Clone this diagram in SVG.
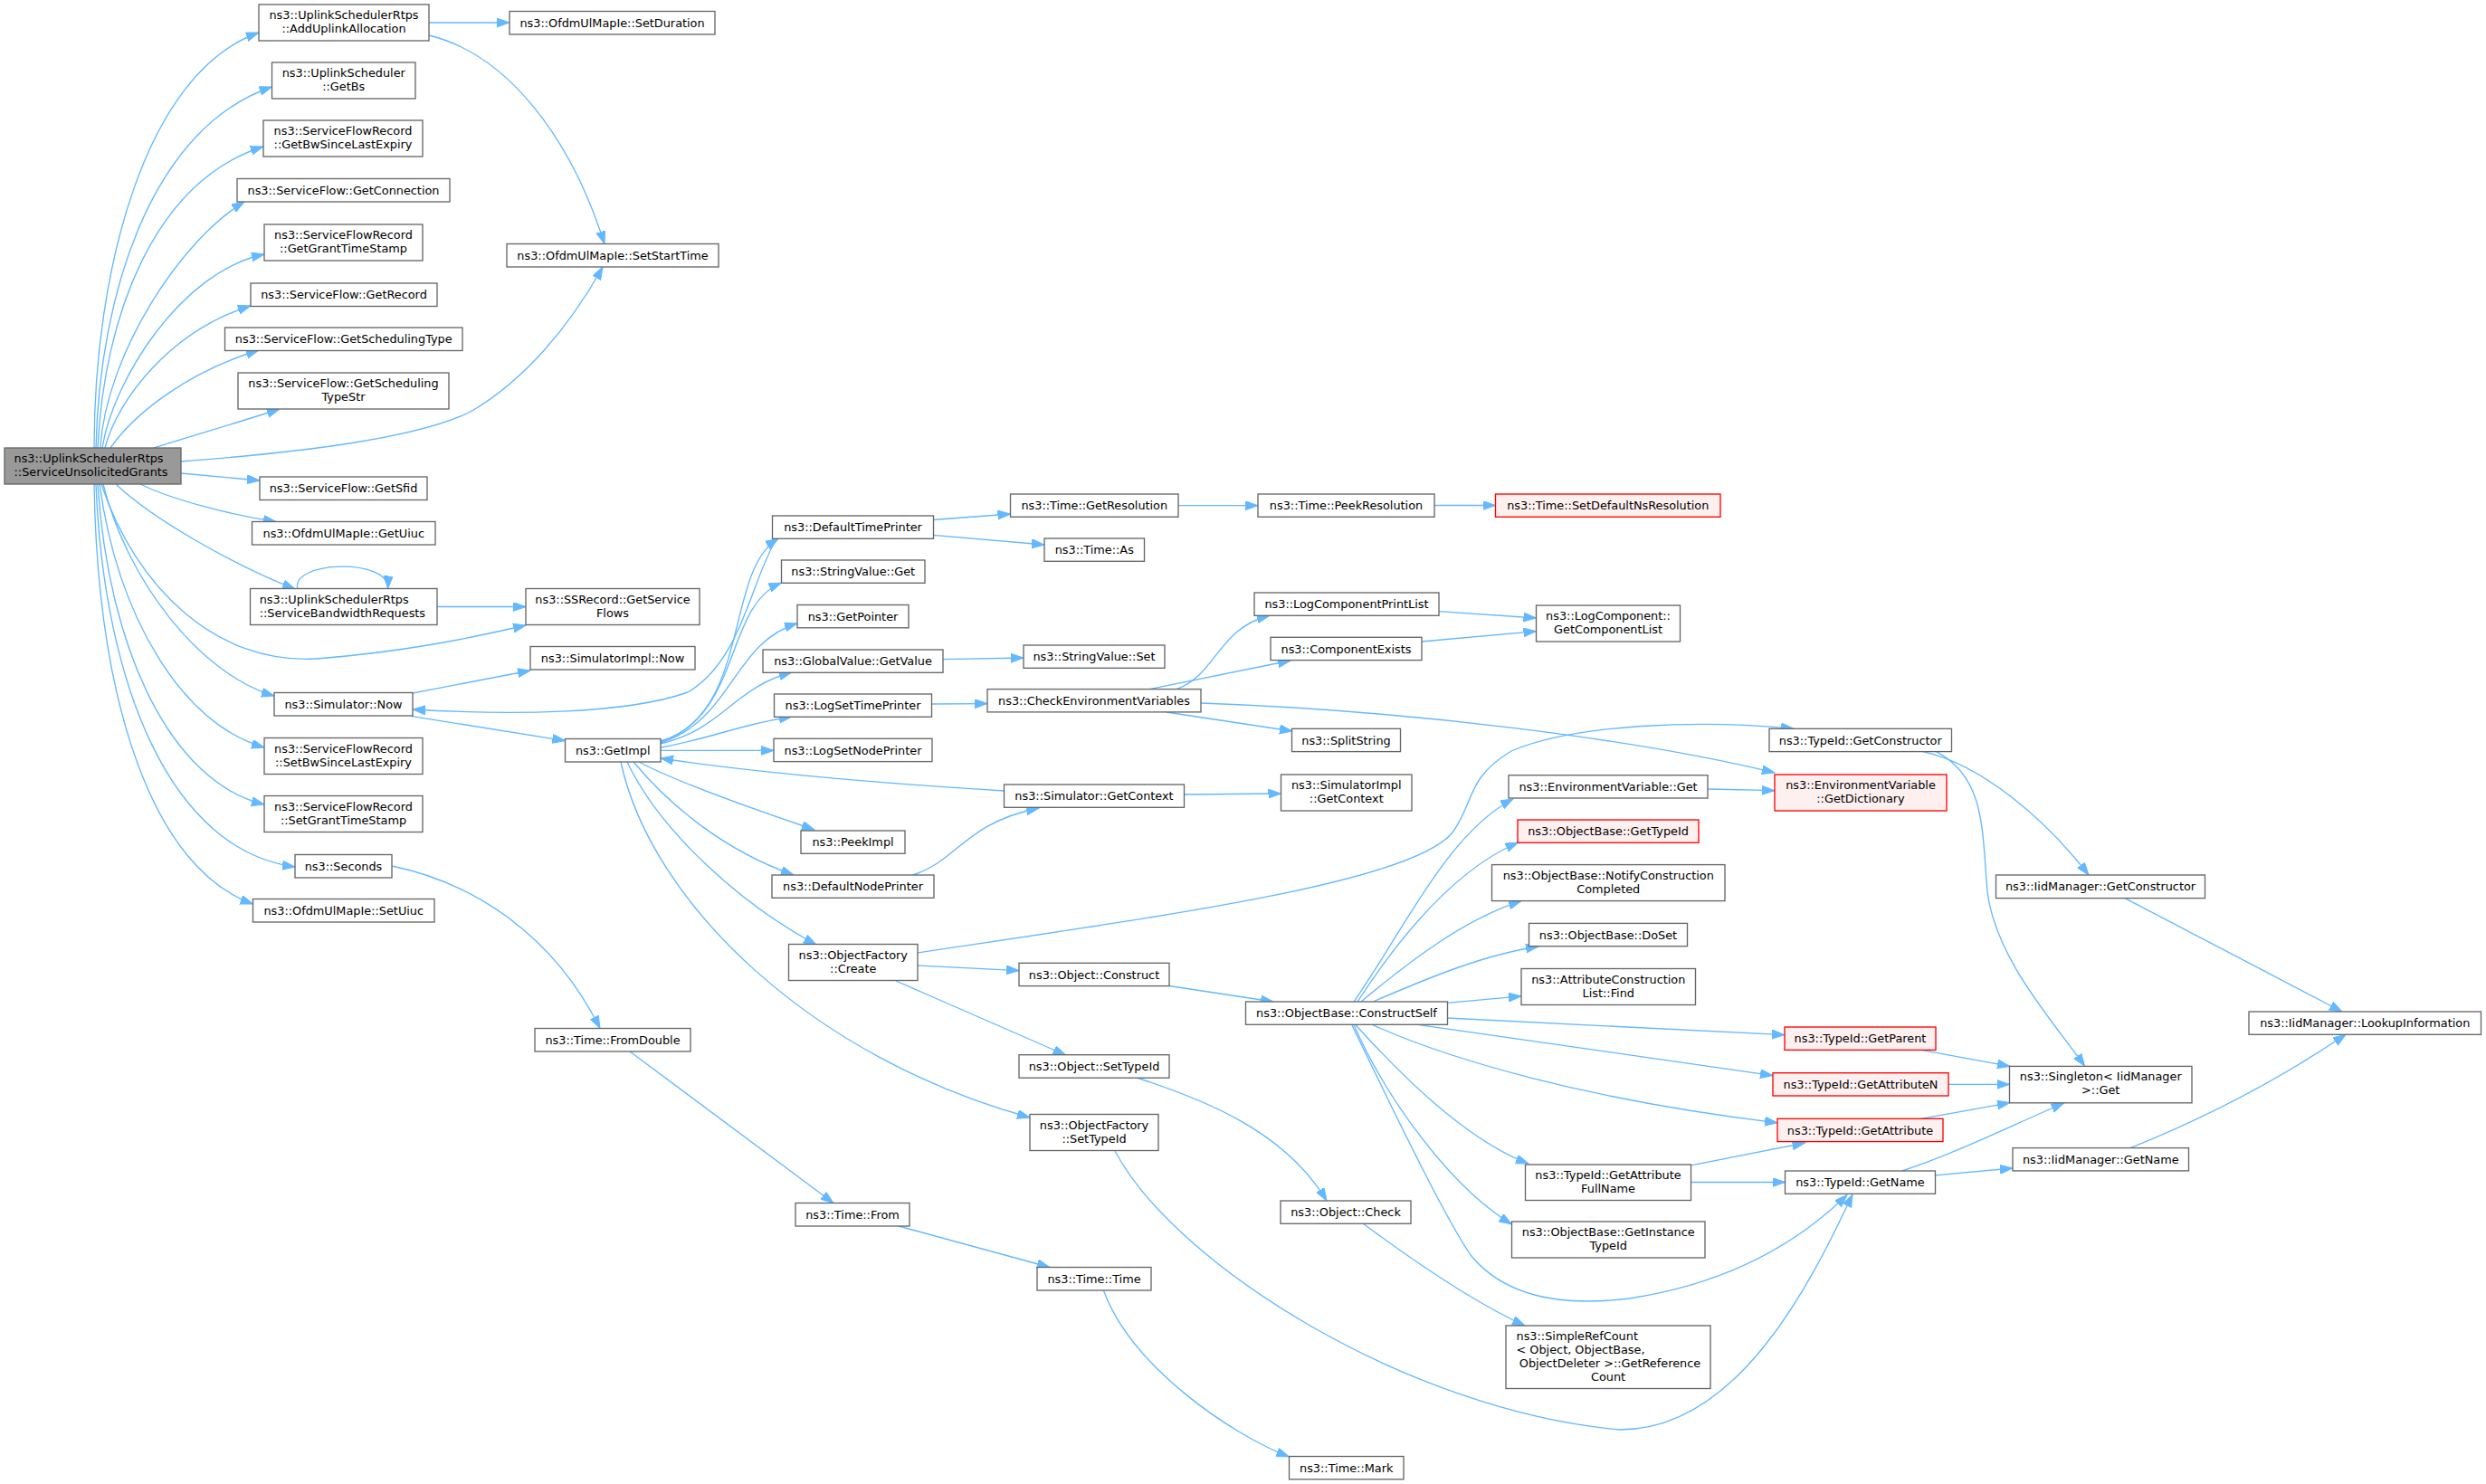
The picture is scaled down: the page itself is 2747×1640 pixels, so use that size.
<svg xmlns="http://www.w3.org/2000/svg" width="2747" height="1640" viewBox="0 0 2747 1640">
<style>
.n rect{fill:#ffffff;stroke:#666666;stroke-width:1.33}
.r rect{fill:#fff0f0;stroke:#ff0000;stroke-width:1.33}
.m rect{fill:#999999;stroke:#666666;stroke-width:1.33}
text{font-family:"DejaVu Sans","Liberation Sans",sans-serif;font-size:12.85px;text-anchor:middle;fill:#000000}
text.l{text-anchor:start}
#edges path{fill:none;stroke:#63b8ff;stroke-width:1.33;marker-end:url(#a)}
</style>
<defs>
<marker id="a" markerUnits="userSpaceOnUse" markerWidth="16" markerHeight="12" refX="14" refY="5" orient="auto">
<path d="M0,0 L14,5 L0,10 z" fill="#63b8ff" stroke="#63b8ff" stroke-width="1"/>
</marker>
</defs>
<rect x="0" y="0" width="2747" height="1640" fill="#ffffff"/>
<g id="edges">
<path d="M104,495 C104,300 160,80 286,36"/>
<path d="M106,495 C110,320 170,140 300.5,96"/>
<path d="M108,495 C115,350 170,200 291,162"/>
<path d="M110.7,495 C118,390 200,265 270,223"/>
<path d="M113,495 C125,420 200,300 292,281"/>
<path d="M116,495 C130,440 190,365 277,338"/>
<path d="M122,495 C150,455 210,410 286,387"/>
<path d="M170,495 C210,482 260,468 309,452"/>
<path d="M200,510 C330,500 460,485 520,455 C580,420 630,360 666,295"/>
<path d="M200,523 L287,531"/>
<path d="M155,535 C190,552 250,568 305,576.5"/>
<path d="M128,535 C170,575 260,625 326,651"/>
<path d="M112,535 C150,650 240,735 350,728 C450,720 520,705 581,691"/>
<path d="M114,535 C140,640 220,745 303,769"/>
<path d="M110,535 C130,680 200,800 292,826"/>
<path d="M108,535 C120,720 190,865 292,889"/>
<path d="M106,535 C115,760 190,940 326,958"/>
<path d="M104,535 C108,780 170,960 279.5,999"/>
<path d="M474,25 L563,25"/>
<path d="M474,39 C560,60 630,150 668,269.5"/>
<path d="M329,651 C320,620 430,616 428.6,650.5"/>
<path d="M483,670.5 L581,670.5"/>
<path d="M456,766 L586,741"/>
<path d="M454,791.4 L624.5,818.6"/>
<path d="M858,596 C830,640 820,730 760,765 C690,790 560,790 456,784"/>
<path d="M730,819 C830,790 800,630 860,595.5"/>
<path d="M730,820 C820,790 800,670 863.5,644"/>
<path d="M730,821 C810,795 810,710 881,689"/>
<path d="M730,822 C800,805 810,760 875,743"/>
<path d="M730,826 C790,815 820,800 875,792"/>
<path d="M730,829.4 L855,829.4"/>
<path d="M1109.5,874 C980,866 850,856 730,838"/>
<path d="M706,842 C740,860 820,890 900,917"/>
<path d="M700,842 C740,890 800,940 877,967"/>
<path d="M693,842 C730,920 820,1000 902,1044"/>
<path d="M686,842 C720,1000 900,1170 1138,1235"/>
<path d="M1031,574.5 L1116.5,568"/>
<path d="M1031,591.3 L1154,602"/>
<path d="M1302,558.7 L1390,558.7"/>
<path d="M1585,558.5 L1652.5,558.5"/>
<path d="M1042,728.6 L1131,727"/>
<path d="M1029,778 L1091,777.6"/>
<path d="M1300,761.6 C1345,745 1345,695 1403,680"/>
<path d="M1270,761.6 L1426,730"/>
<path d="M1289,787 L1428,808"/>
<path d="M1327,777 C1550,785 1800,815 1961,854"/>
<path d="M1590,675.7 L1697.5,683"/>
<path d="M1571,709 L1697.5,697.6"/>
<path d="M1308.6,878 L1415.5,877"/>
<path d="M1009,967 C1060,950 1065,910 1148,893"/>
<path d="M1014,1067 L1126,1072.6"/>
<path d="M990,1084 L1177.7,1166"/>
<path d="M1014,1053 C1300,1010 1560,975 1605,920 C1630,885 1620,860 1670,830 C1740,800 1880,795 1982,805.3"/>
<path d="M1291.8,1089.5 L1407,1107"/>
<path d="M1256,1191 C1330,1215 1420,1250 1466,1327"/>
<path d="M1506,1352 C1560,1392 1630,1440 1685,1465"/>
<path d="M1232,1272 C1300,1400 1560,1560 1790,1580 C1920,1580 2000,1420 2047,1320"/>
<path d="M433,957 C520,975 610,1030 663,1136.5"/>
<path d="M696,1162 L921,1329.5"/>
<path d="M993,1355 L1160,1400.5"/>
<path d="M1219.4,1426 C1250,1510 1360,1585 1424.5,1610"/>
<path d="M1496,1107 C1550,1030 1600,920 1672,883"/>
<path d="M1500,1107 C1550,1030 1610,960 1677.6,931"/>
<path d="M1504,1107 C1560,1060 1620,1015 1681,995.6"/>
<path d="M1517,1107 C1580,1080 1640,1055 1700,1046"/>
<path d="M1599,1108.4 L1681,1100.8"/>
<path d="M1599,1125 L1972,1143.7"/>
<path d="M1563,1131.8 L1959,1188.6"/>
<path d="M1516.8,1132.7 C1600,1170 1750,1215 1964,1240.8"/>
<path d="M1498,1132.7 C1550,1190 1620,1260 1689,1286"/>
<path d="M1496,1132.7 C1530,1210 1600,1310 1670.5,1353"/>
<path d="M1494,1133 C1560,1270 1600,1350 1625,1387 C1660,1430 1720,1445 1800,1435 C1900,1420 1980,1380 2041,1320.5"/>
<path d="M1868.6,1287.8 L1994.5,1263"/>
<path d="M1868.6,1306.5 L1972.5,1306.5"/>
<path d="M2122.8,1160.4 L2221,1178.4"/>
<path d="M2152.7,1198.4 L2220.5,1198.4"/>
<path d="M2122.8,1236.3 L2221,1218.6"/>
<path d="M2101.7,1294 C2160,1275 2220,1245 2280.6,1219"/>
<path d="M2138.3,1298.8 L2224,1291"/>
<path d="M2354,1268.6 C2450,1230 2530,1185 2592,1143.3"/>
<path d="M2348,992.6 L2588,1118"/>
<path d="M2125,830.6 C2190,845 2260,905 2308,967"/>
<path d="M2139.6,830.6 C2195,860 2190,920 2196,985 C2205,1060 2270,1130 2303.7,1178.4"/>
<path d="M1886.8,872 L1961,873.7"/>
</g>
<g id="n_main" class="m"><rect x="5" y="495" width="195" height="40"/><text class="l" x="15.5" y="511">ns3::UplinkSchedulerRtps</text><text class="l" x="15.5" y="526">::ServiceUnsolicitedGrants</text></g>
<g id="n_addUplink" class="n"><rect x="286" y="5" width="188" height="40"/><text x="380" y="21">ns3::UplinkSchedulerRtps</text><text x="380" y="36">::AddUplinkAllocation</text></g>
<g id="n_getBs" class="n"><rect x="300.5" y="69" width="158.5" height="40"/><text x="379.75" y="85">ns3::UplinkScheduler</text><text x="379.75" y="100">::GetBs</text></g>
<g id="n_getBwSince" class="n"><rect x="291" y="133" width="176" height="40"/><text x="379" y="149">ns3::ServiceFlowRecord</text><text x="379" y="164">::GetBwSinceLastExpiry</text></g>
<g id="n_getConnection" class="n"><rect x="262" y="197.5" width="235" height="25.5"/><text x="379.5" y="214.8">ns3::ServiceFlow::GetConnection</text></g>
<g id="n_getGrantTS" class="n"><rect x="292" y="248" width="175" height="40"/><text x="379.5" y="264">ns3::ServiceFlowRecord</text><text x="379.5" y="279">::GetGrantTimeStamp</text></g>
<g id="n_getRecord" class="n"><rect x="277" y="313" width="206" height="25.5"/><text x="380" y="330.3">ns3::ServiceFlow::GetRecord</text></g>
<g id="n_getSchedType" class="n"><rect x="248.5" y="362" width="262.5" height="25.5"/><text x="379.75" y="379.3">ns3::ServiceFlow::GetSchedulingType</text></g>
<g id="n_getSchedTypeStr" class="n"><rect x="263" y="412" width="233" height="40"/><text x="379.5" y="428">ns3::ServiceFlow::GetScheduling</text><text x="379.5" y="443">TypeStr</text></g>
<g id="n_getSfid" class="n"><rect x="287" y="527" width="185" height="25.5"/><text x="379.5" y="544.3">ns3::ServiceFlow::GetSfid</text></g>
<g id="n_getUiuc" class="n"><rect x="278.5" y="576.5" width="202.5" height="25.5"/><text x="379.75" y="593.8">ns3::OfdmUlMapIe::GetUiuc</text></g>
<g id="n_serviceBW" class="n"><rect x="276.5" y="650.5" width="206.5" height="40"/><text class="l" x="286.7" y="666.5">ns3::UplinkSchedulerRtps</text><text class="l" x="286.7" y="681.5">::ServiceBandwidthRequests</text></g>
<g id="n_simNow" class="n"><rect x="303" y="765.5" width="153" height="25.5"/><text x="379.5" y="782.8">ns3::Simulator::Now</text></g>
<g id="n_setBwSince" class="n"><rect x="292" y="815.5" width="175" height="40"/><text x="379.5" y="831.5">ns3::ServiceFlowRecord</text><text x="379.5" y="846.5">::SetBwSinceLastExpiry</text></g>
<g id="n_setGrantTS" class="n"><rect x="292" y="879.5" width="175" height="40"/><text x="379.5" y="895.5">ns3::ServiceFlowRecord</text><text x="379.5" y="910.5">::SetGrantTimeStamp</text></g>
<g id="n_seconds" class="n"><rect x="326" y="944.5" width="107" height="25.5"/><text x="379.5" y="961.8">ns3::Seconds</text></g>
<g id="n_setUiuc" class="n"><rect x="279.5" y="993.5" width="200.5" height="25.5"/><text x="379.75" y="1010.8">ns3::OfdmUlMapIe::SetUiuc</text></g>
<g id="n_setDuration" class="n"><rect x="563" y="12.5" width="227" height="25.5"/><text x="676.5" y="29.8">ns3::OfdmUlMapIe::SetDuration</text></g>
<g id="n_setStartTime" class="n"><rect x="560" y="269.5" width="234" height="25.5"/><text x="677" y="286.8">ns3::OfdmUlMapIe::SetStartTime</text></g>
<g id="n_getServiceFlows" class="n"><rect x="581" y="650.5" width="192" height="40"/><text x="677" y="666.5">ns3::SSRecord::GetService</text><text x="677" y="681.5">Flows</text></g>
<g id="n_simImplNow" class="n"><rect x="586" y="714.5" width="182" height="25.5"/><text x="677" y="731.8">ns3::SimulatorImpl::Now</text></g>
<g id="n_getImpl" class="n"><rect x="624.5" y="816.5" width="105.5" height="25.5"/><text x="677.25" y="833.8">ns3::GetImpl</text></g>
<g id="n_fromDouble" class="n"><rect x="591" y="1136.5" width="172" height="25.5"/><text x="677" y="1153.8">ns3::Time::FromDouble</text></g>
<g id="n_defaultTimePrinter" class="n"><rect x="853.5" y="570" width="178" height="25.3"/><text x="942.5" y="587.3">ns3::DefaultTimePrinter</text></g>
<g id="n_stringValueGet" class="n"><rect x="863.5" y="619" width="158.5" height="25.3"/><text x="942.75" y="636.3">ns3::StringValue::Get</text></g>
<g id="n_getPointer" class="n"><rect x="881" y="668.5" width="123" height="25.3"/><text x="942.5" y="685.8">ns3::GetPointer</text></g>
<g id="n_globalValueGetValue" class="n"><rect x="843" y="718" width="199" height="25.3"/><text x="942.5" y="735.3">ns3::GlobalValue::GetValue</text></g>
<g id="n_logSetTimePrinter" class="n"><rect x="855.5" y="767" width="174" height="25.3"/><text x="942.5" y="784.3">ns3::LogSetTimePrinter</text></g>
<g id="n_logSetNodePrinter" class="n"><rect x="855" y="816.3" width="175" height="25.3"/><text x="942.5" y="833.6">ns3::LogSetNodePrinter</text></g>
<g id="n_peekImpl" class="n"><rect x="885" y="918" width="115" height="25.3"/><text x="942.5" y="935.3">ns3::PeekImpl</text></g>
<g id="n_defaultNodePrinter" class="n"><rect x="853" y="967" width="179" height="25.3"/><text x="942.5" y="984.3">ns3::DefaultNodePrinter</text></g>
<g id="n_objFactoryCreate" class="n"><rect x="871.5" y="1043.5" width="142.5" height="40"/><text x="942.75" y="1059.5">ns3::ObjectFactory</text><text x="942.75" y="1074.5">::Create</text></g>
<g id="n_objFactorySetTypeId" class="n"><rect x="1138" y="1231.5" width="142" height="40"/><text x="1209" y="1247.5">ns3::ObjectFactory</text><text x="1209" y="1262.5">::SetTypeId</text></g>
<g id="n_timeFrom" class="n"><rect x="879" y="1329.5" width="126" height="25.5"/><text x="942" y="1346.8">ns3::Time::From</text></g>
<g id="n_getResolution" class="n"><rect x="1116.5" y="546" width="185.5" height="25.3"/><text x="1209.25" y="563.3">ns3::Time::GetResolution</text></g>
<g id="n_timeAs" class="n"><rect x="1154" y="595" width="110.5" height="25.3"/><text x="1209.25" y="612.3">ns3::Time::As</text></g>
<g id="n_stringValueSet" class="n"><rect x="1131" y="713" width="156" height="25.3"/><text x="1209" y="730.3">ns3::StringValue::Set</text></g>
<g id="n_checkEnv" class="n"><rect x="1091" y="761.6" width="236" height="25.3"/><text x="1209" y="778.9">ns3::CheckEnvironmentVariables</text></g>
<g id="n_simGetContext" class="n"><rect x="1109.5" y="867" width="199" height="25.3"/><text x="1209" y="884.3">ns3::Simulator::GetContext</text></g>
<g id="n_objConstruct" class="n"><rect x="1126" y="1064.3" width="166" height="25.3"/><text x="1209" y="1081.6">ns3::Object::Construct</text></g>
<g id="n_objSetTypeId" class="n"><rect x="1126" y="1165.7" width="166" height="25.5"/><text x="1209" y="1183">ns3::Object::SetTypeId</text></g>
<g id="n_timeTime" class="n"><rect x="1146" y="1400.5" width="126" height="25.5"/><text x="1209" y="1417.8">ns3::Time::Time</text></g>
<g id="n_peekResolution" class="n"><rect x="1390" y="546" width="195" height="25.3"/><text x="1487.5" y="563.3">ns3::Time::PeekResolution</text></g>
<g id="n_logCompPrintList" class="n"><rect x="1386" y="655" width="204" height="25.3"/><text x="1488" y="672.3">ns3::LogComponentPrintList</text></g>
<g id="n_componentExists" class="n"><rect x="1404" y="704.3" width="167" height="25.3"/><text x="1487.5" y="721.6">ns3::ComponentExists</text></g>
<g id="n_splitString" class="n"><rect x="1427.5" y="805.3" width="120" height="25.3"/><text x="1487.5" y="822.6">ns3::SplitString</text></g>
<g id="n_simImplGetContext" class="n"><rect x="1415.5" y="856" width="144.5" height="40"/><text x="1487.75" y="872">ns3::SimulatorImpl</text><text x="1487.75" y="887">::GetContext</text></g>
<g id="n_constructSelf" class="n"><rect x="1376.5" y="1107" width="223" height="25.3"/><text x="1488" y="1124.3">ns3::ObjectBase::ConstructSelf</text></g>
<g id="n_objCheck" class="n"><rect x="1415" y="1327" width="144" height="25.3"/><text x="1487" y="1344.3">ns3::Object::Check</text></g>
<g id="n_timeMark" class="n"><rect x="1424.5" y="1609.5" width="126.5" height="25.3"/><text x="1487.75" y="1626.8">ns3::Time::Mark</text></g>
<g id="n_setDefaultNsResolution" class="r"><rect x="1652.5" y="546" width="248.5" height="25.3"/><text x="1776.75" y="563.3">ns3::Time::SetDefaultNsResolution</text></g>
<g id="n_getComponentList" class="n"><rect x="1697.5" y="669" width="159" height="40"/><text x="1777" y="685">ns3::LogComponent::</text><text x="1777" y="700">GetComponentList</text></g>
<g id="n_envVarGet" class="n"><rect x="1667" y="856.7" width="220" height="25.3"/><text x="1777" y="874">ns3::EnvironmentVariable::Get</text></g>
<g id="n_objBaseGetTypeId" class="r"><rect x="1677" y="906" width="200" height="25.3"/><text x="1777" y="923.3">ns3::ObjectBase::GetTypeId</text></g>
<g id="n_notifyCC" class="n"><rect x="1648.5" y="955.6" width="257.5" height="40"/><text x="1777.25" y="971.6">ns3::ObjectBase::NotifyConstruction</text><text x="1777.25" y="986.6">Completed</text></g>
<g id="n_doSet" class="n"><rect x="1689.5" y="1020.4" width="175" height="25.3"/><text x="1777" y="1037.7">ns3::ObjectBase::DoSet</text></g>
<g id="n_attrFind" class="n"><rect x="1681" y="1070.5" width="192.5" height="40"/><text x="1777.25" y="1086.5">ns3::AttributeConstruction</text><text x="1777.25" y="1101.5">List::Find</text></g>
<g id="n_getAttrFullName" class="n"><rect x="1685.5" y="1287" width="183" height="39.5"/><text x="1777" y="1303">ns3::TypeId::GetAttribute</text><text x="1777" y="1318">FullName</text></g>
<g id="n_getInstanceTypeId" class="n"><rect x="1670.5" y="1350" width="213.5" height="40"/><text x="1777.25" y="1366">ns3::ObjectBase::GetInstance</text><text x="1777.25" y="1381">TypeId</text></g>
<g id="n_simpleRefCount" class="n"><rect x="1664" y="1465" width="226" height="69.5"/><text class="l" x="1675.5" y="1481">ns3::SimpleRefCount</text><text class="l" x="1675.5" y="1496">&lt; Object, ObjectBase,</text><text x="1779" y="1511">ObjectDeleter &gt;::GetReference</text><text x="1777" y="1526">Count</text></g>
<g id="n_typeIdGetConstructor" class="n"><rect x="1955" y="805.3" width="201.5" height="25.3"/><text x="2055.75" y="822.6">ns3::TypeId::GetConstructor</text></g>
<g id="n_envGetDictionary" class="r"><rect x="1961" y="856" width="190" height="40"/><text x="2056" y="872">ns3::EnvironmentVariable</text><text x="2056" y="887">::GetDictionary</text></g>
<g id="n_typeIdGetParent" class="r"><rect x="1972" y="1135" width="167" height="25.4"/><text x="2055.5" y="1152.3">ns3::TypeId::GetParent</text></g>
<g id="n_typeIdGetAttributeN" class="r"><rect x="1959" y="1185.7" width="194" height="25.3"/><text x="2056" y="1203">ns3::TypeId::GetAttributeN</text></g>
<g id="n_typeIdGetAttribute" class="r"><rect x="1964" y="1236.3" width="183" height="25.3"/><text x="2055.5" y="1253.6">ns3::TypeId::GetAttribute</text></g>
<g id="n_typeIdGetName" class="n"><rect x="1972.5" y="1294" width="166" height="25.3"/><text x="2055.5" y="1311.3">ns3::TypeId::GetName</text></g>
<g id="n_iidGetConstructor" class="n"><rect x="2205.5" y="967" width="231" height="25.6"/><text x="2321" y="984.3">ns3::IidManager::GetConstructor</text></g>
<g id="n_singletonGet" class="n"><rect x="2220.5" y="1178.4" width="201.5" height="40.4"/><text x="2321.25" y="1194.4">ns3::Singleton&lt; IidManager</text><text x="2321.25" y="1209.4">&gt;::Get</text></g>
<g id="n_iidGetName" class="n"><rect x="2224" y="1268.6" width="194.5" height="25.3"/><text x="2321.25" y="1285.9">ns3::IidManager::GetName</text></g>
<g id="n_lookupInformation" class="n"><rect x="2485" y="1118" width="256.5" height="25.3"/><text x="2613.25" y="1135.3">ns3::IidManager::LookupInformation</text></g>
</svg>
